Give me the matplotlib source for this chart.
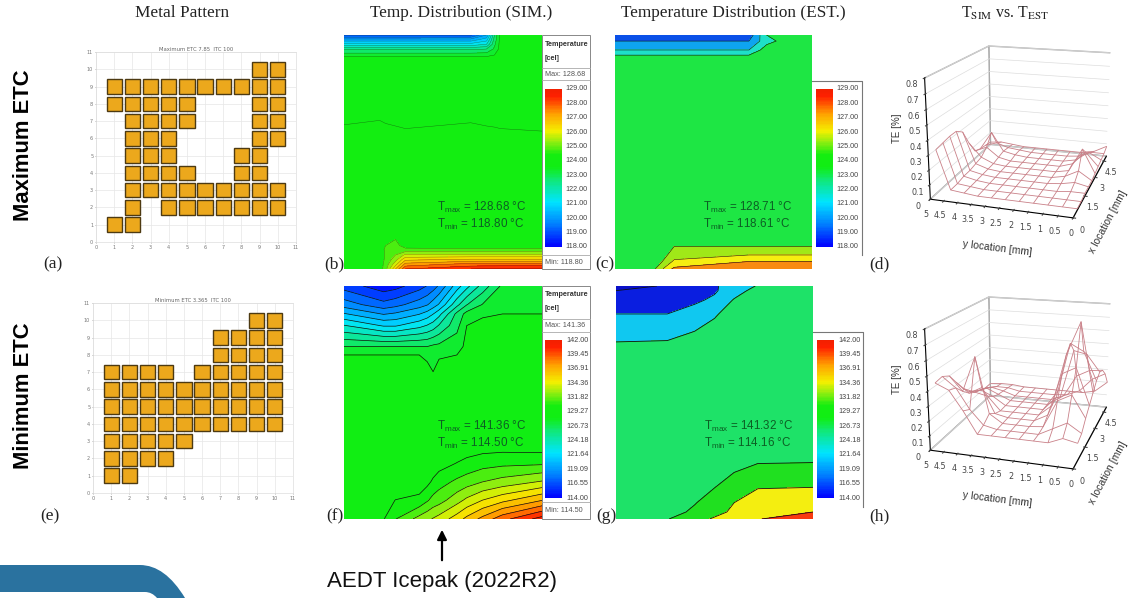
import numpy as np
import matplotlib
matplotlib.use("Agg")
import matplotlib.pyplot as plt
from matplotlib.colors import LinearSegmentedColormap, Normalize
from matplotlib.patches import PathPatch, Rectangle
from matplotlib.path import Path

W, H = 1128, 598

# metal pattern: filled rows in each of the columns 1..10
columns = [1, 2, 3, 4, 5, 6, 7, 8, 9, 10]
rows_max = [[1, 8, 9], [1, 2, 3, 4, 5, 6, 7, 8, 9], [3, 4, 5, 6, 7, 8, 9], [2, 3, 4, 5, 6, 7, 8, 9],
            [2, 3, 4, 7, 8, 9], [2, 3, 9], [2, 3, 9], [2, 3, 4, 5, 9], [2, 3, 4, 5, 6, 7, 8, 9, 10],
            [2, 3, 6, 7, 8, 9, 10]]
rows_min = [[1, 2, 3, 4, 5, 6, 7], [1, 2, 3, 4, 5, 6, 7], [2, 3, 4, 5, 6, 7], [2, 3, 4, 5, 6, 7],
            [3, 4, 5, 6], [4, 5, 6, 7], [4, 5, 6, 7, 8, 9], [4, 5, 6, 7, 8, 9],
            [4, 5, 6, 7, 8, 9, 10], [4, 5, 6, 7, 8, 9, 10]]

# temperature
x_b = [0, 0.9, 1.05, 1.3, 1.55, 3.2, 3.6, 3.8, 3.95, 5]
y_b = [0, 0.1, 0.2, 0.3, 0.42, 0.5, 0.63, 0.75, 2.5, 3.5, 4.45, 4.54, 4.7, 4.8, 4.9, 5]
t_b = [[124.2, 124.2, 124.8, 126.5, 128.0, 128.5, 128.6, 128.6, 128.65, 128.68],
       [124.2, 124.2, 124.7, 125.8, 127.2, 127.7, 127.7, 127.7, 127.7, 127.7],
       [124.2, 124.2, 124.6, 125.3, 126.4, 126.6, 126.6, 126.6, 126.6, 126.6],
       [124.2, 124.2, 124.55, 125.0, 125.6, 125.6, 125.6, 125.6, 125.6, 125.6],
       [124.2, 124.2, 124.6, 124.7, 124.6, 124.55, 124.55, 124.55, 124.55, 124.55],
       [124.2, 124.2, 124.5, 124.65, 124.3, 124.3, 124.3, 124.3, 124.3, 124.3],
       [124.2, 124.2, 124.2, 124.5, 124.2, 124.2, 124.2, 124.2, 124.2, 124.2],
       [124.2, 124.2, 124.2, 124.2, 124.2, 124.2, 124.2, 124.2, 124.2, 124.2],
       [124.25, 124.25, 124.25, 124.25, 124.25, 124.25, 124.25, 124.25, 124.25, 124.25],
       [123.82, 123.88, 123.84, 123.8, 123.75, 123.85, 123.8, 123.78, 123.75, 123.69],
       [123.7, 123.7, 123.7, 123.7, 123.7, 123.7, 123.7, 123.7, 123.7, 123.7],
       [123.5, 123.5, 123.5, 123.5, 123.5, 123.5, 123.5, 123.6, 123.7, 123.7],
       [122.4, 122.4, 122.4, 122.4, 122.4, 122.4, 122.5, 123.1, 123.7, 123.7],
       [121.2, 121.2, 121.2, 121.2, 121.2, 121.2, 121.5, 122.9, 123.7, 123.7],
       [120.2, 120.2, 120.2, 120.2, 120.2, 120.2, 120.8, 122.7, 123.7, 123.7],
       [118.8, 118.8, 118.8, 118.8, 118.8, 118.9, 120.0, 122.5, 123.7, 123.7]]

# temperature
x_c = [0, 1, 1.5, 3.4, 3.85, 5]
y_c = [0, 0.16, 0.3, 0.48, 0.6, 4.45, 4.57, 4.68, 4.87, 5]
t_c = [[124.0, 124.9, 127.5, 128.6, 128.6, 128.7],
       [124.0, 124.2, 126.2, 127.2, 127.2, 127.2],
       [124.0, 124.0, 125.5, 126.0, 126.0, 126.0],
       [124.0, 124.0, 125.0, 125.0, 125.0, 125.0],
       [124.0, 124.0, 124.0, 124.0, 124.0, 124.0],
       [123.9, 123.9, 123.9, 123.9, 123.9, 123.9],
       [122.4, 122.4, 122.4, 122.4, 123.9, 123.9],
       [121.3, 121.3, 121.3, 121.3, 123.0, 123.9],
       [120.2, 120.2, 120.2, 120.2, 122.0, 123.9],
       [118.7, 118.7, 118.9, 119.5, 122.4, 123.9]]

# temperature
x_f = [0, 1, 1.3, 1.9, 2.1, 2.25, 2.4, 2.85, 3.1, 3.5, 4, 5]
y_f = [0, 0.4, 0.8, 1.2, 1.45, 1.7, 3.0, 3.16, 3.52, 3.7, 4.15, 4.4, 4.6, 5]
t_f = [[128.5, 129.2, 130.5, 132.3, 132.8, 133.2, 133.6, 135.0, 136.0, 137.3, 139.0, 141.3],
       [128.5, 128.8, 129.3, 129.6, 130.4, 131.0, 131.3, 132.6, 133.4, 134.4, 135.3, 136.9],
       [128.4, 128.4, 128.5, 128.6, 128.9, 129.5, 130.0, 130.8, 131.2, 131.8, 132.3, 133.2],
       [128.4, 128.4, 128.4, 128.4, 128.4, 128.4, 128.7, 129.3, 129.6, 130.0, 130.2, 130.3],
       [128.4, 128.4, 128.4, 128.4, 128.4, 128.4, 128.4, 128.7, 128.9, 129.1, 129.2, 129.15],
       [128.6, 128.6, 128.6, 128.6, 128.6, 128.6, 128.6, 128.6, 128.6, 128.6, 128.6, 128.6],
       [128.4, 128.4, 128.4, 128.4, 128.4, 128.4, 128.4, 128.4, 128.4, 128.4, 128.4, 128.4],
       [128.3, 128.3, 128.3, 128.3, 128.3, 128.0, 128.3, 128.3, 128.4, 128.4, 128.4, 128.4],
       [128.0, 128.0, 128.0, 128.0, 127.8, 127.5, 127.9, 128.0, 128.4, 128.4, 128.4, 128.4],
       [126.73, 126.73, 126.73, 126.73, 126.73, 127.0, 127.1, 127.5, 128.3, 128.3, 128.3, 128.3],
       [123.0, 121.5, 121.5, 122.5, 123.0, 123.5, 124.3, 126.3, 128.0, 128.4, 128.3, 128.3],
       [120.5, 119.0, 119.3, 120.3, 120.9, 121.6, 122.5, 125.8, 127.2, 127.8, 128.0, 128.0],
       [118.5, 117.0, 117.4, 118.5, 119.0, 119.7, 120.5, 123.8, 125.4, 126.8, 127.6, 127.7],
       [116.0, 114.5, 114.8, 116.0, 116.6, 117.2, 118.0, 121.0, 122.5, 124.7, 127.0, 127.4]]

# temperature
x_g = [0, 1.3, 2, 2.5, 3, 3.6, 5]
y_g = [0, 0.15, 0.35, 0.65, 1, 1.2, 1.5, 3.6, 3.8, 4, 4.4, 4.7, 4.9, 5]
t_g = [[126.9, 129.3, 132.2, 134.6, 136.6, 139.9, 141.3],
       [126.9, 128.0, 130.2, 132.5, 134.9, 137.3, 140.0],
       [126.9, 126.9, 129.3, 131.2, 134.0, 135.8, 137.6],
       [126.9, 126.9, 127.5, 129.6, 131.5, 134.0, 134.2],
       [126.9, 126.9, 127.0, 127.5, 129.5, 131.5, 131.8],
       [126.9, 126.9, 126.9, 127.0, 128.0, 129.4, 129.6],
       [126.9, 126.9, 126.9, 126.9, 126.9, 126.9, 126.9],
       [126.0, 126.0, 126.0, 126.0, 126.0, 126.0, 126.0],
       [122.0, 122.2, 124.0, 125.5, 126.0, 126.0, 126.0],
       [120.6, 120.8, 122.2, 124.5, 126.0, 126.0, 126.0],
       [118.0, 118.0, 119.6, 121.2, 125.0, 126.0, 126.0],
       [116.5, 116.7, 117.3, 118.7, 122.3, 125.0, 126.0],
       [115.0, 115.6, 116.5, 117.5, 120.3, 123.5, 126.0],
       [114.2, 115.2, 116.0, 117.6, 119.5, 122.3, 126.0]]

ticks_max = ["129.00", "128.00", "127.00", "126.00", "125.00", "124.00", "123.00", "122.00", "121.00", "120.00", "119.00", "118.00"]
ticks_min = ["142.00", "139.45", "136.91", "134.36", "131.82", "129.27", "126.73", "124.18", "121.64", "119.09", "116.55", "114.00"]

# TE mesh: rows are x location, columns are y location
te_x = [0.5, 1, 1.5, 2, 2.5, 3, 3.5, 4, 4.5, 5]
te_y = [0, 0.5, 1, 1.5, 2, 2.5, 3, 3.5, 4, 4.5, 5]
te_d = [[0.01, 0.01, 0.01, 0.01, 0.01, 0.01, 0.01, 0.01, 0.02, 0.03, 0.30],
        [0.01, 0.01, 0.01, 0.01, 0.01, 0.01, 0.01, 0.01, 0.02, 0.03, 0.31],
        [0.02, 0.02, 0.01, 0.01, 0.01, 0.01, 0.01, 0.01, 0.02, 0.04, 0.32],
        [0.02, 0.04, 0.02, 0.01, 0.01, 0.01, 0.01, 0.01, 0.02, 0.04, 0.32],
        [0.02, 0.08, 0.03, 0.01, 0.01, 0.01, 0.01, 0.01, 0.02, 0.05, 0.28],
        [0.03, 0.20, 0.03, 0.01, 0.01, 0.01, 0.01, 0.01, 0.02, 0.06, 0.16],
        [0.04, 0.14, 0.04, 0.01, 0.01, 0.01, 0.01, 0.01, 0.03, 0.10, 0.06],
        [0.05, 0.10, 0.03, 0.01, 0.01, 0.01, 0.01, 0.02, 0.04, 0.18, 0.04],
        [0.06, 0.06, 0.02, 0.01, 0.01, 0.01, 0.01, 0.02, 0.03, 0.06, 0.03],
        [0.08, 0.03, 0.01, 0.01, 0.01, 0.01, 0.01, 0.01, 0.02, 0.03, 0.02]]
te_h = [[0.12, 0.14, 0.10, 0.10, 0.10, 0.10, 0.10, 0.10, 0.25, 0.38, 0.42],
        [0.14, 0.20, 0.15, 0.10, 0.10, 0.10, 0.10, 0.12, 0.22, 0.36, 0.43],
        [0.20, 0.35, 0.30, 0.11, 0.10, 0.10, 0.10, 0.16, 0.55, 0.30, 0.40],
        [0.25, 0.50, 0.45, 0.15, 0.10, 0.10, 0.10, 0.12, 0.30, 0.25, 0.32],
        [0.30, 0.78, 0.55, 0.18, 0.10, 0.10, 0.10, 0.10, 0.20, 0.22, 0.24],
        [0.35, 0.55, 0.60, 0.20, 0.10, 0.10, 0.10, 0.10, 0.16, 0.20, 0.18],
        [0.38, 0.50, 0.52, 0.16, 0.10, 0.10, 0.10, 0.10, 0.14, 0.18, 0.14],
        [0.36, 0.35, 0.30, 0.14, 0.10, 0.10, 0.10, 0.10, 0.13, 0.15, 0.12],
        [0.30, 0.25, 0.15, 0.11, 0.10, 0.10, 0.10, 0.10, 0.12, 0.12, 0.10],
        [0.20, 0.12, 0.10, 0.10, 0.10, 0.10, 0.10, 0.10, 0.11, 0.11, 0.10]]

cmap = LinearSegmentedColormap.from_list("icepak", [(0, "#0000ff"), (0.14, "#0080ff"), (0.28, "#00e5ff"),
                                                    (0.42, "#10e878"), (0.5, "#10ee14"), (0.58, "#14ee10"), (0.66, "#90ee10"),
                                                    (0.73, "#f4f000"), (0.84, "#ffa000"), (0.95, "#ff2000"),
                                                    (1, "#f02000")])


def px_axes(left, top, right, bottom, **kw):
    return fig.add_axes([left / W, 1 - bottom / H, (right - left) / W, (bottom - top) / H], **kw)


def metal(box, rows, title):
    ax = px_axes(*box)
    for c, r in zip(columns, rows):
        ax.bar([c] * len(r), [0.84] * len(r), width=0.84, bottom=np.array(r) - 0.42,
               color="#eca81c", edgecolor="#4d3a12", linewidth=1.0)
    ax.set_xlim(0, 11)
    ax.set_ylim(0, 11)
    ax.set_xticks(range(12))
    ax.set_yticks(range(12))
    ax.set_xticklabels(["0", "1", "2", "3", "4", "5", "6", "7", "8", "9", "10", "11"])
    ax.tick_params(labelsize=3.5, colors="#777777", length=1, width=0.4, pad=1)
    ax.grid(color="#e6e6e6", linewidth=0.5)
    ax.set_axisbelow(True)
    for s in ax.spines.values():
        s.set_color("#dddddd")
        s.set_linewidth(0.5)
    ax.set_title(title, fontsize=3.8, color="#666666", pad=1)


def thermal(box, xs, ys, temps, levels, vmin, vmax, colors=None, lw=0.4, line_alpha=1):
    ax = px_axes(*box)
    if colors is None:
        ax.contourf(xs, ys, temps, levels=levels, cmap=cmap, norm=Normalize(vmin, vmax))
    else:
        ax.contourf(xs, ys, temps, levels=levels, colors=colors)
    ax.contour(xs, ys, temps, levels=levels[1:-1], colors="#101010", linewidths=lw, alpha=line_alpha)
    ax.set_xlim(0, 5)
    ax.set_ylim(0, 5)
    ax.set_xticks([])
    ax.set_yticks([])
    for s in ax.spines.values():
        s.set_visible(False)


def scale_bar(box, labels, label_x, vmin, vmax):
    ax = px_axes(*box)
    vals = np.linspace(vmin, vmax, 120)
    ax.pcolormesh([0, 1], vals, vals[:-1].reshape(-1, 1), cmap=cmap, norm=Normalize(vmin, vmax))
    ax.axis("off")
    for lab, yy in zip(labels, np.linspace(box[1], box[3], len(labels))):
        ov.text(label_x, yy, lab, fontsize=5.2, color="#444444", va="center", ha="left", family="Liberation Sans")


def te_mesh(box, te):
    ax = px_axes(*box, projection="3d")
    ax.patch.set_alpha(0)
    xx, yy = np.meshgrid(te_x, te_y, indexing="ij")
    ax.plot_wireframe(xx, yy, np.array(te), color="#c98088", linewidth=0.6)
    ax.set_proj_type("persp", focal_length=0.5)
    ax.view_init(elev=17, azim=-163)
    ax.set_xlim(0, 5)
    ax.set_ylim(0, 5)
    ax.set_zlim(0, 0.8)
    ax.set_box_aspect((1.2, 1, 0.85))
    ax.set_xticks([0, 1.5, 3, 4.5])
    ax.set_xticklabels(["0", "1.5", "3", "4.5"])
    ax.set_yticks([0, 0.5, 1, 1.5, 2, 2.5, 3, 3.5, 4, 4.5, 5])
    ax.set_yticklabels(["0", "0.5", "1", "1.5", "2", "2.5", "3", "3.5", "4", "4.5", "5"])
    ax.set_zticks([0, 0.1, 0.2, 0.3, 0.4, 0.5, 0.6, 0.7, 0.8])
    ax.set_zticklabels(["0", "0.1", "0.2", "0.3", "0.4", "0.5", "0.6", "0.7", "0.8"])
    ax.tick_params(labelsize=5.8, colors="#444444", pad=-3, length=2)
    for a in (ax.xaxis, ax.yaxis, ax.zaxis):
        a.set_pane_color((1, 1, 1, 1))
        a.pane.set_edgecolor("#aaaaaa")
    ax.xaxis._axinfo["grid"]["color"] = (1, 1, 1, 0)
    ax.yaxis._axinfo["grid"]["color"] = (1, 1, 1, 0)
    ax.zaxis._axinfo["grid"]["color"] = "#dddddd"
    ax.zaxis._axinfo["grid"]["linewidth"] = 0.5


fig = plt.figure(figsize=(W / 100, H / 100), dpi=100)
plt.rcParams["mathtext.fontset"] = "custom"
plt.rcParams["mathtext.rm"] = "Liberation Sans"

ov = fig.add_axes([0, 0, 1, 1], zorder=5)
ov.set_xlim(0, W)
ov.set_ylim(H, 0)
ov.axis("off")
ov.patch.set_alpha(0)

te_mesh((904.2, 6.3, 1141.1, 243.2), te_d)
te_mesh((904.2, 257.3, 1141.1, 494.2), te_h)

metal((96, 52, 296, 242), rows_max, "Maximum ETC 7.85  ITC 100")
metal((93, 303, 293, 493), rows_min, "Minimum ETC 3.365  ITC 100")

thermal((344, 35, 542, 269), x_b, y_b, t_b, np.arange(118, 129.5, 0.5), 118, 129, lw=0.3, line_alpha=0.55)
thermal((344, 286, 542, 519), x_f, y_f, t_f, 114 + np.arange(0, 23) * 1.2727, 114, 142, lw=0.5)
thermal((615, 35, 812, 269), x_c, y_c, t_c, [118, 120.2, 121.3, 122.4, 125, 126, 127.2, 129], 118, 129,
        colors=["#0a50e8", "#0ea4f0", "#1ee0c8", "#1ee644", "#a0e818", "#f6ee10", "#f88a10"])
thermal((616, 286, 813, 519), x_g, y_g, t_g, [113, 115, 118, 122, 129.5, 134, 140, 142], 114, 142,
        colors=["#0a10c8", "#0a1ee0", "#10c8f0", "#1ee268", "#20e020", "#f4ee10", "#f83a10"], lw=0.6)

scale_bar((545, 89, 562, 247), ticks_max, 565, 118, 129)
scale_bar((816, 89, 833, 247), ticks_max, 836, 118, 129)
scale_bar((545, 340, 562, 498), ticks_min, 566, 114, 142)
scale_bar((817, 340, 834, 498), ticks_min, 838, 114, 142)

# legend frames of the SIM panels
for top, l1, l2, l3, bot, mx, mn in [(35, 68, 80, 255, 269, "Max: 128.68", "Min: 118.80"),
                                     (286, 319, 332, 502, 519, "Max: 141.36", "Min: 114.50")]:
    ov.add_patch(Rectangle((542, top), 48, bot - top, fill=False, edgecolor="#888888", linewidth=0.7))
    for yy in (l1, l2, l3):
        ov.plot([542, 590], [yy, yy], color="#aaaaaa", linewidth=0.6)
    ov.text(545, top + 9, "Temperature", fontsize=5.2, fontweight="bold", family="Liberation Sans", color="#333333", va="center")
    ov.text(545, top + 23, "[cel]", fontsize=5.2, fontweight="bold", family="Liberation Sans", color="#333333", va="center")
    ov.text(545, (l1 + l2) / 2, mx, fontsize=5.2, family="Liberation Sans", color="#555555", va="center")
    ov.text(545, (l3 + bot) / 2, mn, fontsize=5.2, family="Liberation Sans", color="#555555", va="center")

# partial frames of the EST panels
for left, top, bot in [(812, 81, 255), (813, 332, 507)]:
    ov.plot([left, left + 50, left + 50], [top, top, bot], color="#777777", linewidth=0.8)

# column titles
for cx, txt in [(182, "Metal Pattern"), (461, "Temp. Distribution (SIM.)"), (733, "Temperature Distribution (EST.)")]:
    ov.text(cx, 13, txt, fontsize=12.4, family="Liberation Serif", color="#222222", ha="center", va="center")
ov.text(1005, 13, r"T$_{\mathrm{SIM}}$ vs. T$_{\mathrm{EST}}$", fontsize=11.4, family="Liberation Serif",
        math_fontfamily="stix", color="#222222", ha="center", va="center")

ov.text(24, 145, "Maximum ETC", fontsize=15.8, fontweight="bold", family="Liberation Sans", rotation=90, ha="center", va="center")
ov.text(24, 396, "Minimum ETC", fontsize=15.8, fontweight="bold", family="Liberation Sans", rotation=90, ha="center", va="center")

for lx, ly, lab in [(53, 264, "(a)"), (334, 264, "(b)"), (605, 264, "(c)"), (879, 264, "(d)"),
                    (50, 516, "(e)"), (335, 516, "(f)"), (606, 516, "(g)"), (879, 516, "(h)")]:
    ov.text(lx, ly, lab, fontsize=12.5, family="Liberation Serif", color="#222222", ha="center", va="center")

for lx, ly, lab in [(437, 207, "T$_{\\mathrm{max}}$ = 128.68 °C"), (437, 224, "T$_{\\mathrm{min}}$ = 118.80 °C"),
                    (703, 207, "T$_{\\mathrm{max}}$ = 128.71 °C"), (703, 224, "T$_{\\mathrm{min}}$ = 118.61 °C"),
                    (437, 426, "T$_{\\mathrm{max}}$ = 141.36 °C"), (437, 443, "T$_{\\mathrm{min}}$ = 114.50 °C"),
                    (704, 426, "T$_{\\mathrm{max}}$ = 141.32 °C"), (704, 443, "T$_{\\mathrm{min}}$ = 114.16 °C")]:
    ov.text(lx, ly, lab, fontsize=8.4, family="Liberation Sans", color="#0c5f24", va="center")

# labels of the TE plots
for dy in (0, 251):
    ov.text(897, 128 + dy, "TE [%]", fontsize=7, family="Liberation Sans", color="#333333", rotation=90, ha="center", va="center")
    ov.text(997, 248 + dy, "y location [mm]", fontsize=7.5, family="Liberation Sans", color="#333333", rotation=-7, ha="center", va="center")
    ov.text(1108, 222 + dy, "x location [mm]", fontsize=7.5, family="Liberation Sans", color="#333333", rotation=62, ha="center", va="center")

ov.annotate("", xy=(442, 527), xytext=(442, 563), arrowprops=dict(arrowstyle="-|>", color="black", linewidth=1.6, mutation_scale=14))
ov.text(442, 582, "AEDT Icepak (2022R2)", fontsize=16, family="Liberation Sans", ha="center", va="center", color="#111111")

# ribbon in the lower left corner
verts = [(0, 565), (140, 565), (165, 565), (185, 598), (157, 598), (152, 592), (145, 592), (0, 592), (0, 565)]
codes = [Path.MOVETO, Path.LINETO, Path.CURVE3, Path.CURVE3, Path.LINETO, Path.CURVE3, Path.CURVE3, Path.LINETO, Path.CLOSEPOLY]
ov.add_patch(PathPatch(Path(verts, codes), facecolor="#2a729f", edgecolor="none"))

fig.savefig("out.png", dpi=100)
